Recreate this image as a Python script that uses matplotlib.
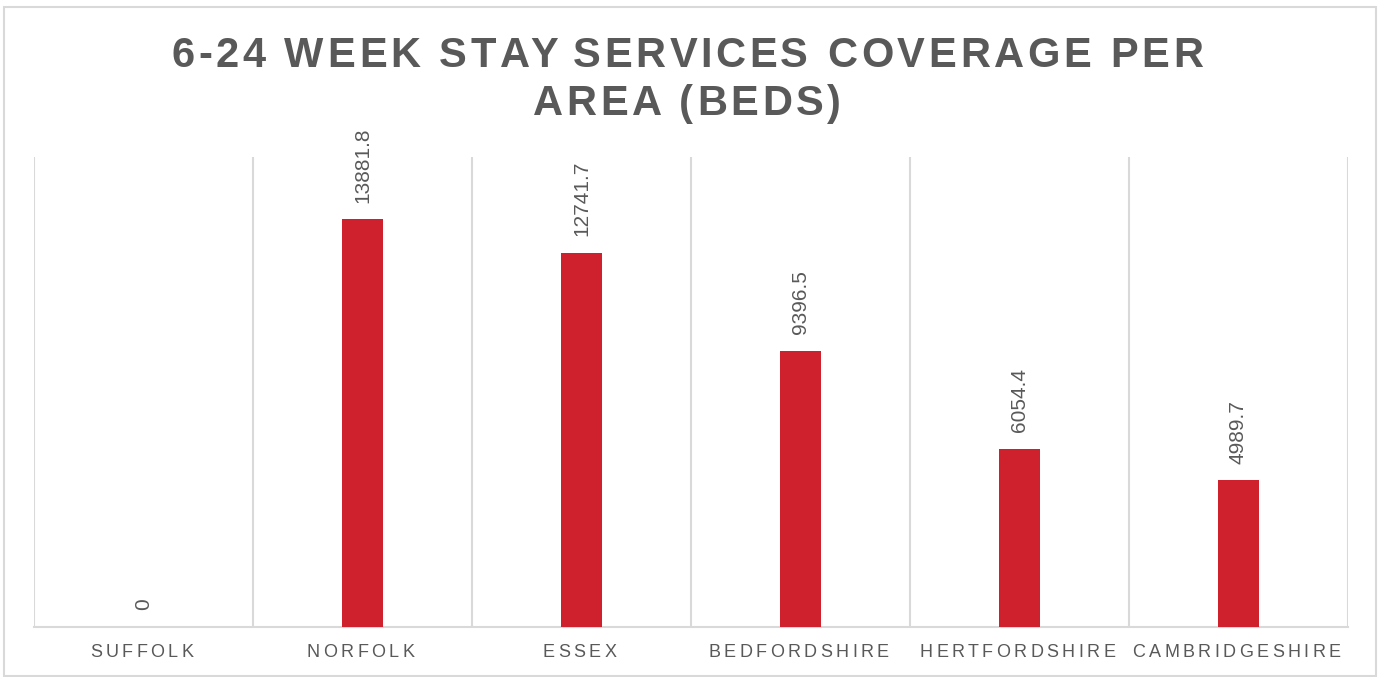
import matplotlib.pyplot as plt
from matplotlib.patches import Rectangle
from matplotlib.transforms import IdentityTransform
from matplotlib.font_manager import FontProperties

areas = ["SUFFOLK", "NORFOLK", "ESSEX", "BEDFORDSHIRE", "HERTFORDSHIRE", "CAMBRIDGESHIRE"]
beds = [0, 13881.8, 12741.7, 9396.5, 6054.4, 4989.7]
value_labels = ["0", "13881.8", "12741.7", "9396.5", "6054.4", "4989.7"]

title_lines = ["6-24 WEEK STAY SERVICES COVERAGE PER", "AREA (BEDS)"]
grey = "#595959"
red = "#CF202E"
grid = "#D9D9D9"

W, H = 1378, 677
plt.rcParams["font.family"] = ["Liberation Sans", "DejaVu Sans"]

fig = plt.figure(figsize=(W / 100, H / 100), dpi=100)
ax = fig.add_axes([34 / W, 1 - 627 / H, (1348 - 34) / W, (627 - 157) / H])
renderer = fig.canvas.get_renderer()


def spaced_text(cx, base_y, s, spacing, size, weight="normal"):
    # letter-spaced text centred on cx, baseline at base_y (pixels from top)
    prop = FontProperties(family="Liberation Sans", size=size, weight=weight)
    offs = [renderer.get_text_width_height_descent(s[:i], prop, ismath=False)[0] if i else 0
            for i in range(len(s) + 1)]
    total = offs[-1] + spacing * (len(s) - 1)
    x0 = cx - total / 2
    for i, ch in enumerate(s):
        if ch == " ":
            continue
        fig.text(x0 + offs[i] + spacing * i, H - base_y, ch, transform=IdentityTransform(),
                 fontproperties=prop, color=grey, ha="left", va="baseline")


x = list(range(len(areas)))
ax.bar(x, beds, width=0.187, color=red, zorder=3)

ax.set_xlim(-0.5, len(areas) - 0.5)
ax.set_ylim(0, 16000)

# category separators
for b in range(len(areas) + 1):
    ax.axvline(b - 0.5, color=grid, lw=1.5, zorder=1)

for s in ["top", "left", "right"]:
    ax.spines[s].set_visible(False)
ax.spines["bottom"].set_color(grid)
ax.spines["bottom"].set_linewidth(1.5)
ax.set_yticks([])
ax.set_xticks([])

for xi, v, lab in zip(x, beds, value_labels):
    ax.annotate(lab, (xi, v), xytext=(0, 12), textcoords="offset points",
                rotation=90, ha="center", va="bottom", fontsize=15, color=grey)

for xi, name in zip(x, areas):
    px = ax.transData.transform((xi, 0))[0]
    spaced_text(px - 2, 657, name, 3.4, 13)

spaced_text(W / 2 - 2, 67, title_lines[0], 3.7, 30, "bold")
spaced_text(W / 2 - 2, 115, title_lines[1], 3.7, 30, "bold")

fig.patches.append(Rectangle((4 / W, 1 / H), 1 - 6 / W, 1 - 8 / H,
                             transform=fig.transFigure, fill=False,
                             edgecolor=grid, lw=1.5))

fig.savefig("out.png", dpi=100)
